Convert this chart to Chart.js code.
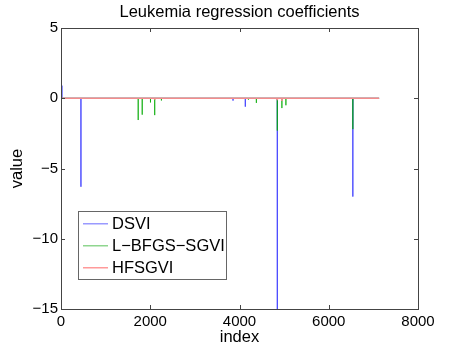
<!DOCTYPE html>
<html>
<head>
<meta charset="utf-8">
<script src="https://cdn.jsdelivr.net/npm/chart.js@4/dist/chart.umd.min.js"></script>
<style>
  html, body { margin: 0; padding: 0; background: #fff; }
  #wrap { width: 463px; height: 348px; }
</style>
</head>
<body>
<div id="wrap"><canvas id="c" width="463" height="348"></canvas></div>
<script>
// sparse coefficients (index, value); everything else is ~0
const nGenes = 7129;
const dsviIdx = [20, 447, 3855, 4130, 4847, 6540];
const dsviVal = [0.9, -6.3, -0.17, -0.6, -15, -7.0];
const lbfgsIdx = [1730, 1820, 2005, 2100, 2250, 4200, 4378, 4847, 4950, 5040, 6540];
const lbfgsVal = [-1.55, -1.17, -0.3, -1.2, -0.16, -0.1, -0.33, -2.3, -0.7, -0.5, -2.2];
const hfIdx = [1900, 2100, 3300, 4847, 4950, 5900];
const hfVal = [-0.06, -0.1, -0.05, -0.15, -0.2, -0.05];
const xTicks = [0, 2000, 4000, 6000, 8000];
const yTicks = [-15, -10, -5, 0, 5];

// turn each coefficient into a vertical stem from zero
function stems(idx, val, end) {
  const pts = [{x: 0, y: 0}];
  idx.forEach((i, k) => {
    pts.push({x: i, y: 0}, {x: i, y: val[k]}, {x: i, y: 0});
  });
  pts.push({x: end, y: 0});
  return pts;
}

const font = "'Liberation Sans', Arial, sans-serif";
const minus = v => String(v).replace('-', '\u2212');
const legendColors = ['#9a9aff', '#8fd68f', '#ff9a9a'];

// title, box + inward ticks and the legend, matlab style
const boxPlugin = {
  id: 'box',
  afterDraw(chart) {
    const ctx = chart.ctx, a = chart.chartArea;
    const xs = chart.scales.x, ys = chart.scales.y;
    ctx.save();
    ctx.fillStyle = '#000';
    ctx.font = '16.5px ' + font;
    ctx.textAlign = 'center';
    ctx.textBaseline = 'alphabetic';
    ctx.fillText('Leukemia regression coefficients', (a.left + a.right) / 2, 17);

    ctx.strokeStyle = '#444';
    ctx.lineWidth = 1;
    ctx.strokeRect(a.left + 0.5, a.top + 0.5, a.right - a.left, a.bottom - a.top);
    ctx.beginPath();
    xTicks.forEach(t => {
      const px = Math.round(xs.getPixelForValue(t)) + 0.5;
      ctx.moveTo(px, a.bottom); ctx.lineTo(px, a.bottom - 4);
      ctx.moveTo(px, a.top); ctx.lineTo(px, a.top + 4);
    });
    yTicks.forEach(t => {
      const py = Math.round(ys.getPixelForValue(t)) + 0.5;
      ctx.moveTo(a.left, py); ctx.lineTo(a.left + 4, py);
      ctx.moveTo(a.right, py); ctx.lineTo(a.right - 4, py);
    });
    ctx.stroke();

    // legend box inside plot
    const lx = 78, ly = 211, lw = 148, lh = 68;
    ctx.fillStyle = '#fff';
    ctx.fillRect(lx, ly, lw, lh);
    ctx.strokeStyle = '#666';
    ctx.strokeRect(lx + 0.5, ly + 0.5, lw, lh);
    ctx.font = '16.5px ' + font;
    ctx.textAlign = 'left';
    ctx.textBaseline = 'middle';
    chart.data.datasets.forEach((ds, k) => {
      const y = ly + 12 + k * 22;
      ctx.fillStyle = legendColors[k];
      ctx.fillRect(lx + 5, y, 25, 1.5);
      ctx.fillStyle = '#000';
      ctx.fillText(ds.label, lx + 34, y + 1);
    });
    ctx.restore();
  }
};

new Chart(document.getElementById('c'), {
  type: 'line',
  data: {
    datasets: [
      { label: 'DSVI', data: stems(dsviIdx, dsviVal, nGenes), borderColor: 'rgba(60,60,255,0.85)', order: 2 },
      { label: 'L\u2212BFGS\u2212SGVI', data: stems(lbfgsIdx, lbfgsVal, nGenes), borderColor: 'rgba(0,170,0,0.75)', order: 1 },
      { label: 'HFSGVI', data: stems(hfIdx, hfVal, nGenes), borderColor: 'rgb(245,140,140)', borderWidth: 1.6, order: 0 }
    ]
  },
  options: {
    responsive: false,
    animation: false,
    parsing: false,
    elements: {
      line: { borderWidth: 1, tension: 0 },
      point: { radius: 0 }
    },
    layout: { padding: { left: 0, right: 45, top: 28, bottom: 0 } },
    plugins: {
      legend: { display: false },
      tooltip: { enabled: false },
      title: { display: false }
    },
    scales: {
      x: {
        type: 'linear', min: 0, max: 8000,
        afterBuildTicks: s => { s.ticks = xTicks.map(v => ({ value: v })); },
        afterFit: s => { s.height = 39; },
        grid: { display: false, drawTicks: false },
        border: { display: false },
        ticks: { color: '#000', font: { family: font, size: 15 }, padding: 4, maxRotation: 0, callback: v => minus(v) },
        title: { display: true, text: 'index', color: '#000', font: { family: font, size: 16.5 }, padding: { top: 0, bottom: 1 } }
      },
      y: {
        type: 'linear', min: -15, max: 5,
        afterBuildTicks: s => { s.ticks = yTicks.map(v => ({ value: v })); },
        afterFit: s => { s.width = 61; },
        grid: { display: false, drawTicks: false },
        border: { display: false },
        ticks: { color: '#000', font: { family: font, size: 15 }, padding: 3, callback: v => minus(v) },
        title: { display: true, text: 'value', color: '#000', font: { family: font, size: 16.5 }, padding: { top: 8, bottom: 0 } }
      }
    }
  },
  plugins: [boxPlugin]
});
</script>
</body>
</html>
